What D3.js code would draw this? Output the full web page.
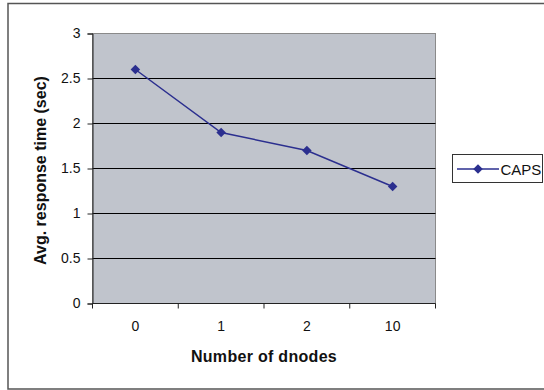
<!DOCTYPE html>
<html>
<head>
<meta charset="utf-8">
<script src="https://cdn.jsdelivr.net/npm/d3@7"></script>
<style>
  html, body { margin: 0; padding: 0; background: #fff; }
  svg { display: block; }
  text { font-family: "Liberation Sans", Arial, sans-serif; fill: #111; }
</style>
</head>
<body>
<svg id="chart" width="544" height="390"></svg>
<script>
// Average response time per number of dnodes
const categories = ["0", "1", "2", "10"];
const capsValues = [2.6, 1.9, 1.7, 1.3];
const yTicks = [0, 0.5, 1, 1.5, 2, 2.5, 3];
const seriesName = "CAPS";
const xTitle = "Number of dnodes";
const yTitle = "Avg. response time (sec)";

const svg = d3.select("#chart");
const plot = { left: 92.5, right: 435.5, top: 33.5, bottom: 303.5 };
const lineColor = "#2b2f8f";
const fontFamily = '"Liberation Sans", Arial, sans-serif';

// outer chart frame (runs past the right edge)
svg.append("rect")
  .attr("x", 8).attr("y", 3.5)
  .attr("width", 560).attr("height", 385.5)
  .attr("fill", "#fff").attr("stroke", "#555").attr("stroke-width", 1.5);

const x = d3.scaleBand().domain(categories).range([plot.left, plot.right]).padding(0);
const y = d3.scaleLinear().domain([0, 3]).range([plot.bottom, plot.top]);

// plot area
svg.append("rect")
  .attr("x", plot.left).attr("y", plot.top)
  .attr("width", plot.right - plot.left).attr("height", plot.bottom - plot.top)
  .attr("fill", "#c0c4cc").attr("stroke", "#8a8a8a").attr("stroke-width", 1);

// horizontal gridlines
svg.append("g")
  .selectAll("line")
  .data(yTicks.filter(v => v > 0 && v < 3))
  .join("line")
  .attr("x1", plot.left).attr("x2", plot.right)
  .attr("y1", d => Math.round(y(d) - 0.5) + 0.5).attr("y2", d => Math.round(y(d) - 0.5) + 0.5)
  .attr("stroke", "#000").attr("stroke-width", 1);

// y axis
const yAxis = svg.append("g")
  .attr("transform", `translate(${plot.left},0)`)
  .call(d3.axisLeft(y).tickValues(yTicks).tickSize(5).tickPadding(7).tickFormat(d3.format("")));
yAxis.select(".domain").attr("stroke", "#222");
yAxis.selectAll(".tick line").attr("stroke", "#222");
yAxis.selectAll(".tick text")
  .attr("font-size", 14).attr("fill", "#111")
  .style("font-family", fontFamily);

// x axis: labels at band centres, ticks at band boundaries
const xAxis = svg.append("g")
  .attr("transform", `translate(0,${plot.bottom})`)
  .call(d3.axisBottom(x).tickSize(0).tickPadding(18));
xAxis.select(".domain").remove();
xAxis.selectAll(".tick text")
  .attr("font-size", 14).attr("fill", "#111")
  .style("font-family", fontFamily);

const bounds = categories.map(c => x(c)).concat([x(categories[categories.length - 1]) + x.bandwidth()]);
svg.append("line")
  .attr("x1", plot.left).attr("x2", plot.right)
  .attr("y1", plot.bottom).attr("y2", plot.bottom)
  .attr("stroke", "#222");
svg.append("g")
  .selectAll("line")
  .data(bounds)
  .join("line")
  .attr("x1", d => d).attr("x2", d => d)
  .attr("y1", plot.bottom).attr("y2", plot.bottom + 5)
  .attr("stroke", "#222");

// axis titles
svg.append("text")
  .attr("x", (plot.left + plot.right) / 2).attr("y", 362)
  .attr("text-anchor", "middle")
  .attr("font-size", 16).attr("font-weight", "bold")
  .attr("letter-spacing", 0.3)
  .text(xTitle);

svg.append("text")
  .attr("transform", `translate(45.5,${(plot.top + plot.bottom) / 2 + 2}) rotate(-90)`)
  .attr("text-anchor", "middle")
  .attr("font-size", 16).attr("font-weight", "bold")
  .text(yTitle);

// series line and diamond markers
const cx = d => x(d.cat) + x.bandwidth() / 2;
const pts = categories.map((c, i) => ({ cat: c, v: capsValues[i] }));
const marker = d3.symbol().type(d3.symbolSquare).size(45);

svg.append("path")
  .datum(pts)
  .attr("d", d3.line().x(cx).y(d => y(d.v)))
  .attr("fill", "none").attr("stroke", lineColor).attr("stroke-width", 1.5);

svg.append("g")
  .selectAll("path")
  .data(pts)
  .join("path")
  .attr("transform", d => `translate(${cx(d)},${y(d.v)}) rotate(45)`)
  .attr("d", marker)
  .attr("fill", lineColor);

// legend
const lg = svg.append("g");
lg.append("rect")
  .attr("x", 452.5).attr("y", 154.5).attr("width", 90).attr("height", 28)
  .attr("fill", "#fff").attr("stroke", "#333").attr("stroke-width", 1);
lg.append("line")
  .attr("x1", 457).attr("x2", 499).attr("y1", 169).attr("y2", 169)
  .attr("stroke", lineColor).attr("stroke-width", 1.5);
lg.append("path")
  .attr("transform", "translate(478,169) rotate(45)")
  .attr("d", marker)
  .attr("fill", lineColor);
lg.append("text")
  .attr("x", 500.5).attr("y", 174.5)
  .attr("font-size", 15)
  .text(seriesName);
</script>
</body>
</html>
